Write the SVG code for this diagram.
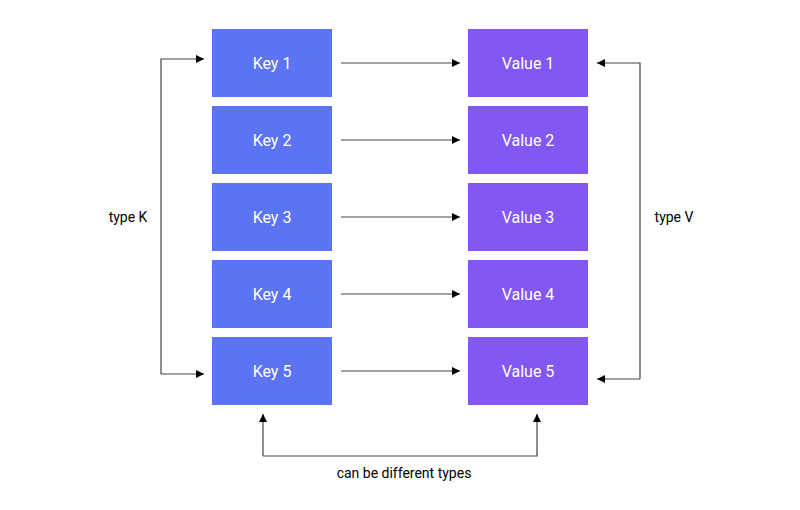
<svg xmlns="http://www.w3.org/2000/svg" width="800" height="510" viewBox="0 0 800 510">
<defs>
<marker id="ah" viewBox="0 0 10 10" refX="10" refY="5" markerWidth="8" markerHeight="8" markerUnits="userSpaceOnUse" orient="auto">
<path d="M0,0 L10,5 L0,10 z" fill="#000"/>
</marker>
<style>
.key{fill:#5b73f5}
.val{fill:#8257f3}
.bt{font-family:Roboto,"Liberation Sans",sans-serif;font-size:16px;fill:#fff;text-anchor:middle;dominant-baseline:central}
.lb{font-family:Roboto,"Liberation Sans",sans-serif;font-size:14px;fill:#000;text-anchor:middle;dominant-baseline:central}
.c{fill:none;stroke:#444;stroke-width:1.2;marker-end:url(#ah)}
</style>
</defs>
<rect width="800" height="510" fill="#fff"/>
<g id="key1"><rect class="key" x="212" y="29" width="120" height="68"/><text class="bt" x="272" y="63">Key 1</text></g>
<g id="key2"><rect class="key" x="212" y="106" width="120" height="68"/><text class="bt" x="272" y="140">Key 2</text></g>
<g id="key3"><rect class="key" x="212" y="183" width="120" height="68"/><text class="bt" x="272" y="217">Key 3</text></g>
<g id="key4"><rect class="key" x="212" y="260" width="120" height="68"/><text class="bt" x="272" y="294">Key 4</text></g>
<g id="key5"><rect class="key" x="212" y="337" width="120" height="68"/><text class="bt" x="272" y="371">Key 5</text></g>
<g id="value1"><rect class="val" x="468" y="29" width="120" height="68"/><text class="bt" x="528" y="63">Value 1</text></g>
<g id="value2"><rect class="val" x="468" y="106" width="120" height="68"/><text class="bt" x="528" y="140">Value 2</text></g>
<g id="value3"><rect class="val" x="468" y="183" width="120" height="68"/><text class="bt" x="528" y="217">Value 3</text></g>
<g id="value4"><rect class="val" x="468" y="260" width="120" height="68"/><text class="bt" x="528" y="294">Value 4</text></g>
<g id="value5"><rect class="val" x="468" y="337" width="120" height="68"/><text class="bt" x="528" y="371">Value 5</text></g>
<g id="connectors">
<line class="c" x1="341" y1="63" x2="460" y2="63"/>
<line class="c" x1="341" y1="140" x2="460" y2="140"/>
<line class="c" x1="341" y1="217" x2="460" y2="217"/>
<line class="c" x1="341" y1="294" x2="460" y2="294"/>
<line class="c" x1="341" y1="371" x2="460" y2="371"/>
<path class="c" d="M161,374 V59 H204"/>
<path class="c" d="M161,374 H204"/>
<path class="c" d="M640,379 V63 H597"/>
<path class="c" d="M640,379 H597"/>
<path class="c" d="M263,456 V414"/>
<path class="c" d="M263,456 H537 V414"/>
</g>
<g id="labels">
<text class="lb" x="128" y="217">type K</text>
<text class="lb" x="674" y="217">type V</text>
<text class="lb" x="404" y="473">can be different types</text>
</g>
</svg>
